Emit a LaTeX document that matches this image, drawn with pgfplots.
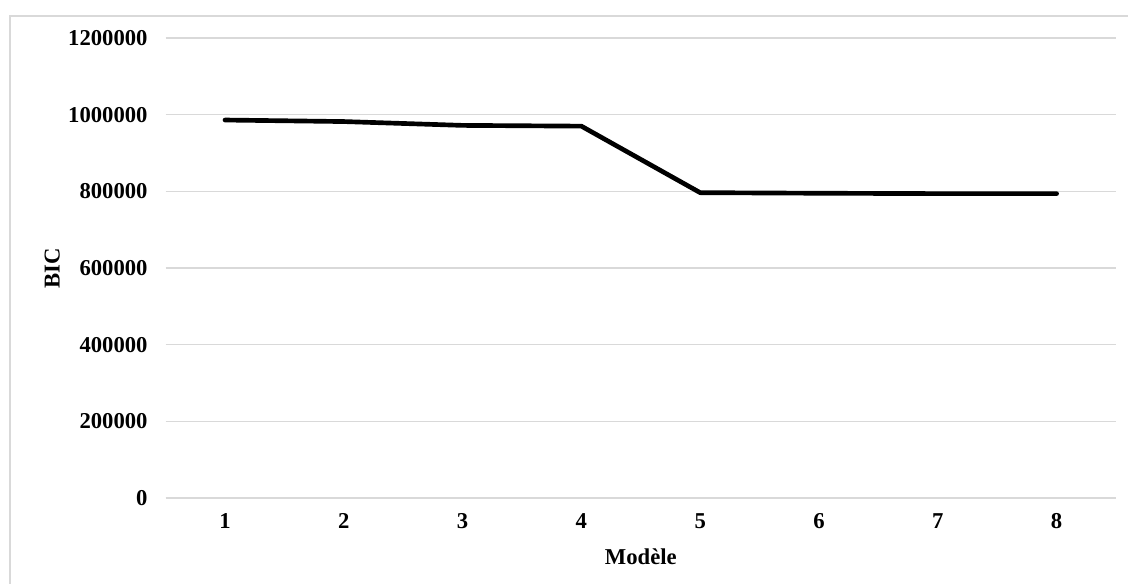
\documentclass[border=0pt]{standalone}
\usepackage{pgfplots}
\pgfplotsset{compat=1.18}
\usepackage{fontspec}
\setmainfont{Liberation Serif}
\definecolor{gridgray}{HTML}{D9D9D9}
\begin{document}
\begin{tikzpicture}
\path[use as bounding box] (0,0) rectangle (846pt,438pt);
\draw[gridgray, line width=1pt] (7.5pt,-2pt) -- (7.5pt,426pt) -- (850pt,426pt);
\begin{axis}[
  at={(124.2pt,64.5pt)}, anchor=south west,
  scale only axis,
  width=712.8pt, height=345pt,
  xmin=0.5, xmax=8.5,
  ymin=0, ymax=1200000,
  xtick={1,...,8},
  ytick={0,200000,...,1200000},
  scaled y ticks=false,
  /pgf/number format/assume math mode=true,
  yticklabel={\pgfmathprintnumber[fixed,precision=0,set thousands separator={}]{\tick}},
  ticklabel style={font=\bfseries\fontsize{17}{20}\selectfont},
  label style={font=\bfseries\fontsize{17}{20}\selectfont},
  major tick length=0pt,
  ymajorgrids,
  grid style={gridgray, line width=1pt},
  axis x line*=bottom,
  axis y line*=left,
  y axis line style={draw=none},
  x axis line style={gridgray, line width=1pt, -},
  yticklabel style={xshift=-10pt},
  xticklabel style={yshift=-8pt},
  xlabel={Modèle},
  ylabel={BIC},
  xlabel style={at={(axis description cs:0.5,0)}, anchor=center, yshift=-44pt},
  ylabel style={at={(axis description cs:-0.1193,0.5)}, anchor=center},
  clip=false,
]
\addplot[black, line width=3.5pt, line join=round, line cap=round] coordinates {
  (1,986000) (2,982000) (3,972000) (4,970000) (5,796500) (6,795000) (7,794000) (8,794000)
};
\end{axis}
\end{tikzpicture}
\end{document}
